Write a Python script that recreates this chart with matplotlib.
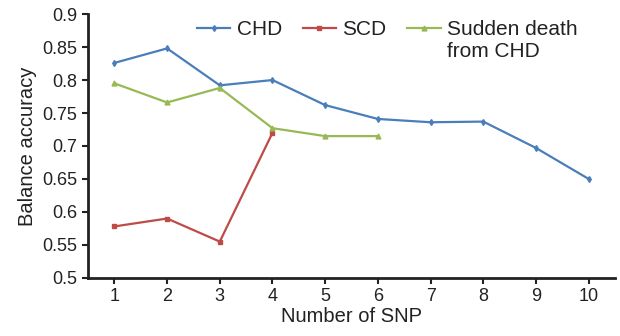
import matplotlib
matplotlib.use("Agg")
import matplotlib.pyplot as plt

plt.rcParams['font.family'] = ['Liberation Sans', 'DejaVu Sans']

n_snp = [1, 2, 3, 4, 5, 6, 7, 8, 9, 10]
chd = [0.826, 0.848, 0.792, 0.800, 0.762, 0.741, 0.736, 0.737, 0.697, 0.650]
scd = [0.578, 0.590, 0.555, 0.720]
sudden = [0.795, 0.766, 0.788, 0.727, 0.715, 0.715]

fig = plt.figure(figsize=(6.2, 3.36), dpi=100)
ax = fig.add_axes([0.142, 0.173, 0.85, 0.785])

ax.plot(n_snp, chd, color='#4a7ebb', lw=1.6, marker='d', ms=3, label='CHD')
ax.plot(n_snp[:len(scd)], scd, color='#be4b48', lw=1.6, marker='s', ms=3.5, label='SCD')
ax.plot(n_snp[:len(sudden)], sudden, color='#98b954', lw=1.6, marker='^', ms=3.5,
        label='Sudden death')

ax.set_xlim(0.5, 10.5)
ax.set_ylim(0.5, 0.9)
ax.set_xticks(n_snp)
ax.set_yticks([0.5, 0.55, 0.6, 0.65, 0.7, 0.75, 0.8, 0.85, 0.9])
ax.set_yticklabels(['0.5', '0.55', '0.6', '0.65', '0.7', '0.75', '0.8', '0.85', '0.9'])
ax.tick_params(labelsize=13, width=1.5, length=4, color='#222222', labelcolor='#222222')
for s in ['top', 'right']:
    ax.spines[s].set_visible(False)
for s in ['left', 'bottom']:
    ax.spines[s].set_linewidth(2)
    ax.spines[s].set_color('#222222')

ax.set_xlabel('Number of SNP', fontsize=14.5, color='#222222', labelpad=1)
ax.set_ylabel('Balance accuracy', fontsize=14.5, color='#222222', labelpad=4)

leg = fig.legend(loc='upper left', bbox_to_anchor=(0.318, 0.94), ncol=3, frameon=False,
                 fontsize=15, borderpad=0, borderaxespad=0, handlelength=1.6,
                 handletextpad=0.3, columnspacing=1.0, labelcolor='#222222')

# second line of the last legend label, handles stay level with the first line
fig.canvas.draw()
bb = leg.get_texts()[-1].get_window_extent().transformed(fig.transFigure.inverted())
fig.text(bb.x0, bb.y0 - 0.065, 'from CHD', fontsize=15, color='#222222',
         ha='left', va='bottom')

fig.savefig('out.png', dpi=100)
